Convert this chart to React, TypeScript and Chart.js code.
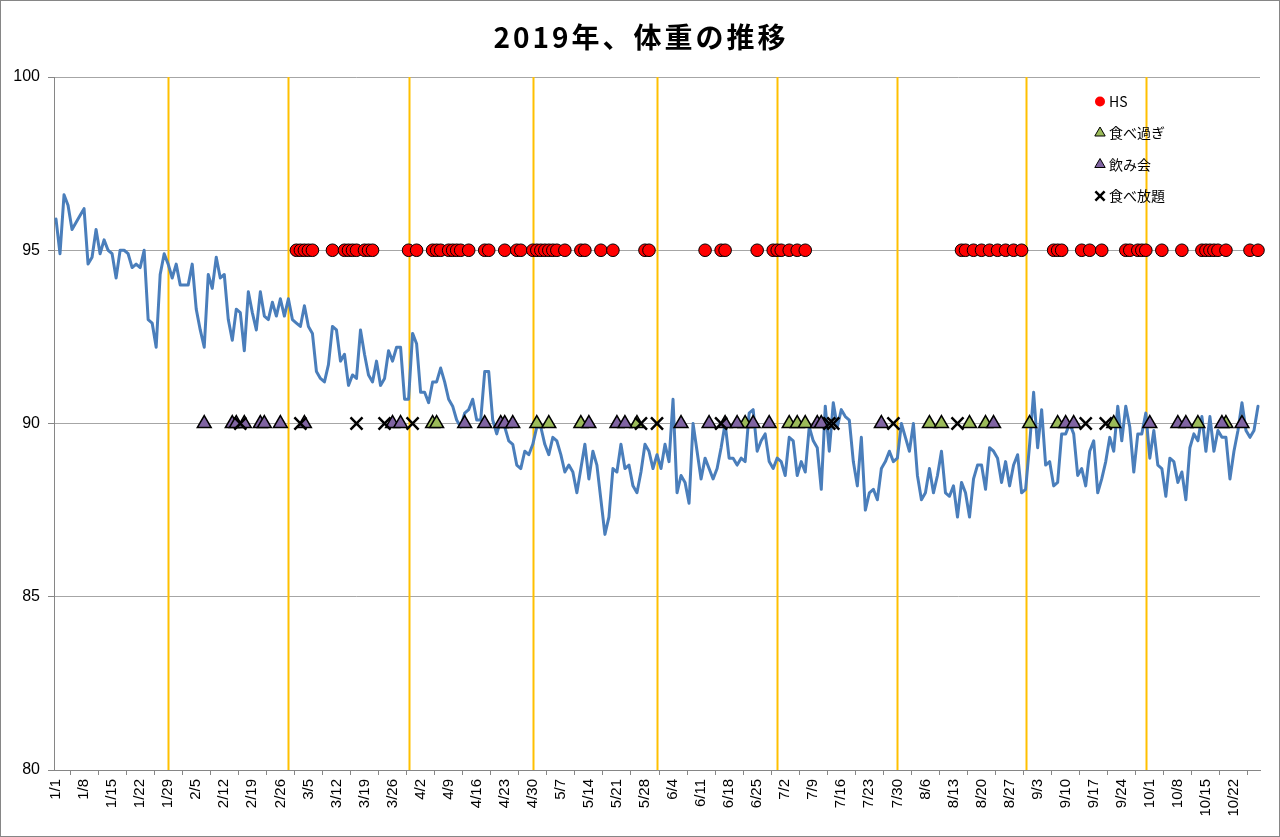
import { useEffect, useRef } from "react";
import { Chart, registerables } from "chart.js";
import type { ChartOptions, Plugin } from "chart.js";
import { drawPoint } from "chart.js/helpers";

Chart.register(...registerables);

const TITLE = "2019年、体重の推移";

// days per month (2019), used to build the daily category labels 1/1 .. 10/28
const MONTH_DAYS = [31, 28, 31, 30, 31, 30, 31, 31, 30, 31];
const DAY_COUNT = 301;

const dayLabels: string[] = [];
MONTH_DAYS.forEach((n, m) => {
  for (let d = 1; d <= n && dayLabels.length < DAY_COUNT; d++) dayLabels.push(`${m + 1}/${d}`);
});

// daily weight (kg), 1/1 .. 10/28
const weight = [
  95.9, 94.9, 96.6, 96.3, 95.6, 95.8, 96.0, 96.2, 94.6, 94.8,
  95.6, 94.9, 95.3, 95.0, 94.9, 94.2, 95.0, 95.0, 94.9, 94.5,
  94.6, 94.5, 95.0, 93.0, 92.9, 92.2, 94.3, 94.9, 94.6, 94.2,
  94.6, 94.0, 94.0, 94.0, 94.6, 93.3, 92.7, 92.2, 94.3, 93.9,
  94.8, 94.2, 94.3, 93.0, 92.4, 93.3, 93.2, 92.1, 93.8, 93.2,
  92.7, 93.8, 93.1, 93.0, 93.5, 93.1, 93.6, 93.1, 93.6, 93.0,
  92.9, 92.8, 93.4, 92.8, 92.6, 91.5, 91.3, 91.2, 91.7, 92.8,
  92.7, 91.8, 92.0, 91.1, 91.4, 91.3, 92.7, 92.0, 91.4, 91.2,
  91.8, 91.1, 91.3, 92.1, 91.8, 92.2, 92.2, 90.7, 90.7, 92.6,
  92.3, 90.9, 90.9, 90.6, 91.2, 91.2, 91.6, 91.2, 90.7, 90.5,
  90.1, 89.9, 90.3, 90.4, 90.7, 90.1, 90.1, 91.5, 91.5, 90.1,
  89.7, 90.1, 89.9, 89.5, 89.4, 88.8, 88.7, 89.2, 89.1, 89.4,
  89.9, 89.9, 89.4, 89.1, 89.6, 89.5, 89.1, 88.6, 88.8, 88.6,
  88.0, 88.7, 89.4, 88.4, 89.2, 88.8, 87.8, 86.8, 87.3, 88.7,
  88.6, 89.4, 88.7, 88.8, 88.2, 88.0, 88.6, 89.4, 89.2, 88.7,
  89.1, 88.7, 89.4, 88.9, 90.7, 88.0, 88.5, 88.3, 87.7, 90.0,
  89.2, 88.4, 89.0, 88.7, 88.4, 88.7, 89.3, 90.0, 89.0, 89.0,
  88.8, 89.0, 88.9, 90.3, 90.4, 89.2, 89.5, 89.7, 88.9, 88.7,
  89.0, 88.9, 88.5, 89.6, 89.5, 88.5, 88.9, 88.6, 89.9, 89.5,
  89.3, 88.1, 90.5, 89.2, 90.6, 89.9, 90.4, 90.2, 90.1, 88.9,
  88.2, 89.6, 87.5, 88.0, 88.1, 87.8, 88.7, 88.9, 89.2, 88.9,
  89.0, 90.0, 89.6, 89.2, 90.0, 88.5, 87.8, 88.0, 88.7, 88.0,
  88.5, 89.2, 88.0, 87.9, 88.2, 87.3, 88.3, 88.0, 87.3, 88.4,
  88.8, 88.8, 88.1, 89.3, 89.2, 89.0, 88.3, 88.9, 88.2, 88.8,
  89.1, 88.0, 88.1, 89.4, 90.9, 89.3, 90.4, 88.8, 88.9, 88.2,
  88.3, 89.7, 89.7, 90.0, 89.7, 88.5, 88.7, 88.2, 89.2, 89.5,
  88.0, 88.4, 88.9, 89.6, 89.2, 90.5, 89.5, 90.5, 89.9, 88.6,
  89.7, 89.7, 90.3, 89.0, 89.8, 88.8, 88.7, 87.9, 89.0, 88.9,
  88.3, 88.6, 87.8, 89.3, 89.7, 89.5, 90.2, 89.2, 90.2, 89.2,
  89.8, 89.6, 89.6, 88.4, 89.2, 89.8, 90.6, 89.8, 89.6, 89.8,
  90.5,
];

// event days, plotted as markers at a fixed level
const HS_LEVEL = 95;
const EVENT_LEVEL = 90;

const hsDays = [
  "3/2", "3/3", "3/4", "3/5", "3/6", "3/11", "3/14", "3/15", "3/16", "3/17", "3/19", "3/20", "3/21",
  "3/30", "4/1", "4/5", "4/6", "4/7", "4/9", "4/10", "4/11", "4/12", "4/14", "4/18", "4/19", "4/23",
  "4/26", "4/27", "4/30", "5/1", "5/2", "5/3", "5/4", "5/5", "5/6", "5/8", "5/12", "5/13", "5/17",
  "5/20", "5/28", "5/29", "6/12", "6/16", "6/17", "6/25", "6/29", "6/30", "7/1", "7/3", "7/5", "7/7",
  "8/15", "8/16", "8/18", "8/20", "8/22", "8/24", "8/26", "8/28", "8/30", "9/7", "9/8", "9/9", "9/14",
  "9/16", "9/19", "9/25", "9/26", "9/28", "9/29", "9/30", "10/4", "10/9", "10/14", "10/15", "10/16",
  "10/17", "10/18", "10/20", "10/26", "10/28",
];
const overeatDays = [
  "4/5", "4/6", "5/1", "5/4", "5/12", "5/26", "6/22", "7/3", "7/5", "7/7", "8/7", "8/10", "8/17",
  "8/21", "9/1", "9/8", "9/22", "10/13", "10/20",
];
const drinkDays = [
  "2/7", "2/14", "2/15", "2/17", "2/21", "2/22", "2/26", "3/4", "3/26", "3/28", "4/13", "4/18", "4/22",
  "4/23", "4/25", "5/14", "5/21", "5/23", "6/6", "6/13", "6/17", "6/20", "6/24", "6/28", "7/10", "7/11",
  "7/26", "8/23", "9/10", "9/12", "10/1", "10/8", "10/10", "10/19", "10/24",
];
const buffetDays = [
  "2/16", "3/3", "3/17", "3/24", "3/31", "5/27", "5/31", "6/16", "7/13", "7/14", "7/29", "8/14", "9/15", "9/20",
];

// orange vertical marker lines
const markerLineDays = ["1/29", "2/28", "3/30", "4/30", "5/31", "6/30", "7/30", "8/31", "9/30"];

const toSeries = (days: string[], level: number) =>
  dayLabels.map((l) => (days.includes(l) ? level : null));

const AXIS = "#868686";
const GRID = "#a6a6a6";
const LATIN = '"Liberation Sans", Arial, sans-serif';
const JP = '"Noto Sans CJK JP", "Noto Sans", sans-serif';

const titlePlugin: Plugin<"line"> = {
  id: "weightTitle",
  afterDraw(chart) {
    const ctx = chart.ctx;
    ctx.save();
    ctx.font = `bold 28px ${JP}`;
    (ctx as any).letterSpacing = "3px";
    ctx.fillStyle = "#000";
    ctx.textAlign = "center";
    ctx.textBaseline = "middle";
    ctx.fillText(TITLE, chart.width / 2 + 1, 36);
    ctx.restore();
  },
};

const markerLinePlugin: Plugin<"line"> = {
  id: "markerLines",
  beforeDatasetsDraw(chart) {
    const { ctx, chartArea } = chart;
    const xs = chart.scales.x;
    ctx.save();
    ctx.strokeStyle = "#ffc000";
    ctx.lineWidth = 2;
    markerLineDays.forEach((d) => {
      const i = dayLabels.indexOf(d);
      if (i < 0) return;
      const x = Math.round(xs.getPixelForValue(i)) + 0.5;
      ctx.beginPath();
      ctx.moveTo(x, chartArea.top);
      ctx.lineTo(x, chartArea.bottom);
      ctx.stroke();
    });
    ctx.restore();
  },
};

const legendPlugin: Plugin<"line"> = {
  id: "insideLegend",
  afterDraw(chart) {
    const { ctx, chartArea } = chart;
    const x0 = chartArea.right - 160;
    let y = chartArea.top + 24.5;
    ctx.save();
    chart.data.datasets.forEach((ds: any) => {
      if (!ds.inLegend) return;
      ctx.fillStyle = ds.pointBackgroundColor;
      ctx.strokeStyle = ds.pointBorderColor;
      ctx.lineWidth = ds.legendBorder;
      drawPoint(ctx, { pointStyle: ds.pointStyle, radius: ds.legendRadius, rotation: 0, borderWidth: ds.legendBorder } as any, x0, y);
      ctx.fillStyle = "#000";
      ctx.font = `14px ${JP}`;
      ctx.textAlign = "left";
      ctx.textBaseline = "middle";
      ctx.fillText(ds.label, x0 + 9, y);
      y += 31.5;
    });
    ctx.restore();
  },
};

const App = () => {
  const canvasRef = useRef<HTMLCanvasElement | null>(null);
  const chartRef = useRef<Chart | null>(null);

  useEffect(() => {
    const canvas = canvasRef.current;
    if (!canvas) return;
    if (chartRef.current) {
      chartRef.current.destroy();
      chartRef.current = null;
    }

    const options: ChartOptions<"line"> = {
      animation: false,
      responsive: true,
      maintainAspectRatio: false,
      layout: { padding: { top: 76, right: 19, left: 0, bottom: 0 } },
      plugins: {
        legend: { display: false },
        title: { display: false },
        tooltip: { enabled: false },
      },
      scales: {
        x: {
          type: "category",
          offset: true,
          grid: { display: true, drawOnChartArea: false, offset: true, tickLength: 5, color: AXIS },
          border: { color: AXIS, width: 1 },
          ticks: {
            autoSkip: false,
            minRotation: 90,
            maxRotation: 90,
            padding: 4,
            color: "#000",
            font: { family: LATIN, size: 15 },
            callback: (_v: any, i: number) => (i % 7 === 0 ? dayLabels[i] : null),
          },
          afterFit: (s: any) => {
            s.height = 66;
          },
        },
        y: {
          min: 80,
          max: 100,
          grid: { color: GRID, tickLength: 6, tickColor: AXIS },
          border: { color: AXIS, width: 1 },
          ticks: { stepSize: 5, padding: 8, color: "#000", font: { family: LATIN, size: 16 } },
          afterFit: (s: any) => {
            s.width = 53;
          },
        },
      },
    };

    chartRef.current = new Chart(canvas, {
      type: "line",
      data: {
        labels: dayLabels,
        datasets: [
          {
            label: "体重",
            data: weight,
            borderColor: "#4a7ebb",
            borderWidth: 3,
            borderJoinStyle: "round",
            borderCapStyle: "round",
            pointRadius: 0,
            tension: 0,
            order: 4,
          },
          {
            label: "HS",
            data: toSeries(hsDays, HS_LEVEL),
            showLine: false,
            pointStyle: "circle",
            pointRadius: 6.3,
            pointBackgroundColor: "#ff0000",
            pointBorderColor: "#000",
            pointBorderWidth: 1,
            order: 3,
            inLegend: true,
            legendRadius: 5,
            legendBorder: 0,
          } as any,
          {
            label: "食べ過ぎ",
            data: toSeries(overeatDays, EVENT_LEVEL),
            showLine: false,
            pointStyle: "triangle",
            pointRadius: 8,
            pointBackgroundColor: "#9bbb59",
            pointBorderColor: "#000",
            pointBorderWidth: 1.5,
            order: 2,
            inLegend: true,
            legendRadius: 6,
            legendBorder: 1,
          } as any,
          {
            label: "飲み会",
            data: toSeries(drinkDays, EVENT_LEVEL),
            showLine: false,
            pointStyle: "triangle",
            pointRadius: 8,
            pointBackgroundColor: "#8064a2",
            pointBorderColor: "#000",
            pointBorderWidth: 1.5,
            order: 1,
            inLegend: true,
            legendRadius: 6,
            legendBorder: 1,
          } as any,
          {
            label: "食べ放題",
            data: toSeries(buffetDays, EVENT_LEVEL),
            showLine: false,
            pointStyle: "crossRot",
            pointRadius: 8.5,
            pointBackgroundColor: "#000",
            pointBorderColor: "#000",
            pointBorderWidth: 2.5,
            order: 0,
            inLegend: true,
            legendRadius: 6.5,
            legendBorder: 2.5,
          } as any,
        ],
      },
      options,
      plugins: [markerLinePlugin, titlePlugin, legendPlugin],
    });

    return () => {
      if (chartRef.current) {
        chartRef.current.destroy();
        chartRef.current = null;
      }
    };
  }, []);

  return (
    <div
      style={{
        position: "fixed",
        left: 0,
        top: 0,
        width: 1280,
        height: 837,
        boxSizing: "border-box",
        border: `1px solid ${AXIS}`,
        background: "#fff",
      }}
    >
      <canvas ref={canvasRef} />
    </div>
  );
};

export default App;
